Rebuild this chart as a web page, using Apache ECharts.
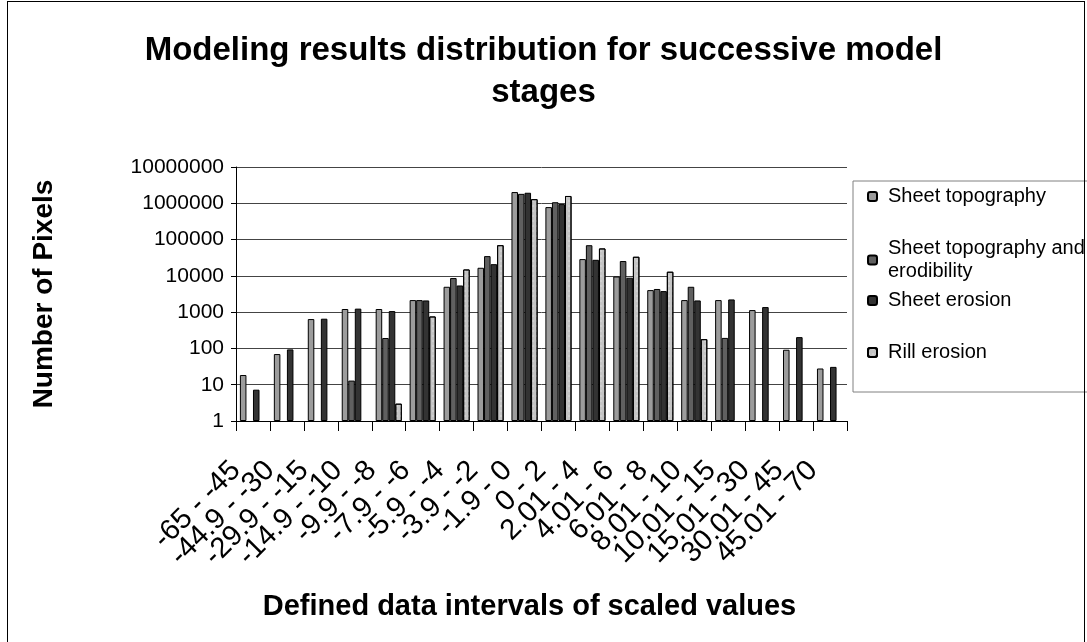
<!DOCTYPE html>
<html>
<head>
<meta charset="utf-8">
<script src="https://cdn.jsdelivr.net/npm/echarts@6/dist/echarts.min.js"></script>
<style>
html,body{margin:0;padding:0;background:#fff;overflow:hidden;}
#wrap{position:relative;width:1087px;height:642px;overflow:hidden;}
#frame{position:absolute;left:7px;top:1px;width:1078px;height:660px;border:1px solid #000;box-sizing:border-box;pointer-events:none;}
#c{position:absolute;left:0;top:0;width:1087px;height:642px;}
</style>
</head>
<body>
<div id="wrap"><div id="c"></div><div id="frame"></div></div>
<script>
const categories = ['-65 - -45','-44.9 - -30','-29.9 - -15','-14.9 - -10','-9.9 - -8','-7.9 - -6','-5.9 - -4','-3.9 - -2','-1.9 - 0','0 - 2','2.01 - 4','4.01 - 6','6.01 - 8','8.01 - 10','10.01 - 15','15.01 - 30','30.01 - 45','45.01 - 70'];
const sheetTopography = [18.5,70,645,1220,1220,2150,5000,16700,2040000,785000,29000,9600,4050,2150,2150,1140,92,28];
const sheetTopoErod = [null,null,null,13,194,2150,8700,35000,1820000,1070000,70000,25600,4350,5000,195,null,null,null];
const sheetErosion = [7.3,94,660,1250,1070,2100,5430,21000,1950000,950000,27700,8900,3800,2100,2240,1380,205,31];
const rillErosion = [null,null,null,null,3,760,15000,70000,1300000,1590000,57000,33600,13000,180,null,null,null,null];
const seriesNames = ['Sheet topography','Sheet topography and erodibility','Sheet erosion','Rill erosion'];
const legendTexts = ['Sheet topography','Sheet topography and\nerodibility','Sheet erosion','Rill erosion'];

const chart = echarts.init(document.getElementById('c'), null, {renderer:'canvas'});
const F = 'Arial, "Liberation Sans", sans-serif';
function bar(name, data, color, decal){
  const s = {name, type:'bar', data, barGap:'0%', barCategoryGap:'23%',
    itemStyle:{color, borderColor:'#000', borderWidth:1}};
  if (decal) s.itemStyle.decal = decal;
  return s;
}
const legendTops = [185, 237, 289, 341];
chart.setOption({
  animation:false,
  title:{text:'Modeling results distribution for successive model\nstages', left:'center', top:25,
    textStyle:{fontFamily:F, fontSize:33, fontWeight:'bold', color:'#000', lineHeight:42}},
  grid:{left:236, right:240, top:167, bottom:221, containLabel:false},
  legend: seriesNames.map((n,i)=>({data:[n], orient:'vertical', left:867, top:legendTops[i], padding:0,
    itemWidth:9, itemHeight:9, itemGap:8,
    formatter:()=>legendTexts[i],
    textStyle:{fontFamily:F, fontSize:20, color:'#000', lineHeight:23, padding:[0,0,0,6]}})),
  graphic:[{type:'rect', shape:{x:853, y:181, width:240, height:211}, style:{fill:'none', stroke:'#808080', lineWidth:1}, z:-1}],
  xAxis:{type:'category', data:categories, boundaryGap:true,
    name:'Defined data intervals of scaled values', nameLocation:'middle', nameGap:171,
    nameTextStyle:{fontFamily:F, fontSize:29, fontWeight:'bold', color:'#000', padding:[0,24,0,0]},
    axisLine:{lineStyle:{color:'#000', width:1}},
    axisTick:{show:true, length:10, lineStyle:{color:'#000'}, interval:0},
    axisLabel:{rotate:45, interval:0, fontFamily:F, fontSize:29, color:'#000', margin:28, padding:[0,24,0,0]}},
  yAxis:{type:'log', logBase:10, min:1, max:10000000,
    name:'Number of Pixels', nameLocation:'middle', nameGap:178, nameRotate:90,
    nameTextStyle:{fontFamily:F, fontSize:28, fontWeight:'bold', color:'#000'},
    axisLine:{show:true, lineStyle:{color:'#000'}},
    axisTick:{show:true, length:5, lineStyle:{color:'#000'}},
    splitLine:{show:true, lineStyle:{color:'#444', width:1}},
    axisLabel:{fontFamily:F, fontSize:21, color:'#000', margin:12, formatter:v=>String(Math.round(v))}},
  series:[
    bar(seriesNames[0], sheetTopography, '#9c9c9c'),
    bar(seriesNames[1], sheetTopoErod, '#606060'),
    bar(seriesNames[2], sheetErosion, '#333333'),
    bar(seriesNames[3], rillErosion, '#c4c4c4', {symbol:'rect', symbolSize:0.6, color:'rgba(255,255,255,0.7)', dashArrayX:[2,2], dashArrayY:[2,3], rotation:0})
  ]
});
</script>
</body>
</html>
